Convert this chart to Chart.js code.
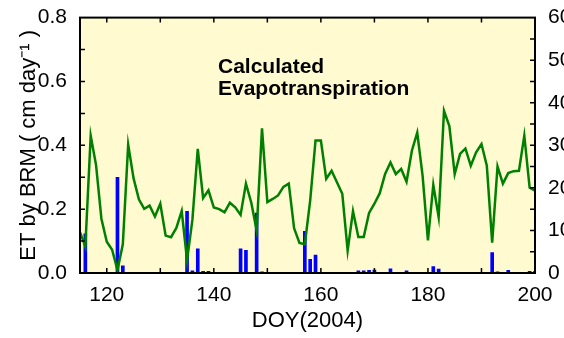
<!DOCTYPE html>
<html>
<head>
<meta charset="utf-8">
<script src="https://cdn.jsdelivr.net/npm/chart.js@4.4.1/dist/chart.umd.min.js"></script>
<style>
  html, body { margin: 0; padding: 0; background: #fff; overflow: hidden; }
</style>
</head>
<body>
<canvas id="graficaET" width="564" height="338"></canvas>
<script>
// Dias del año (DOY 2004) para la ET calculada
const diasET = [
  115, 116, 117, 118, 119, 120, 121, 122, 123, 124, 125, 126, 127, 128, 129,
  130, 131, 132, 133, 134, 135, 136, 137, 138, 139, 140, 141, 142, 143, 144,
  145, 146, 147, 148, 149, 150, 151, 152, 153, 154, 155, 156, 157, 158, 159,
  160, 161, 162, 163, 164, 165, 166, 167, 168, 169, 170, 171, 172, 173, 174,
  175, 176, 177, 178, 179, 180, 181, 182, 183, 184, 185, 186, 187, 188, 189,
  190, 191, 192, 193, 194, 195, 196, 197, 198, 199, 200
];

// ET por BRM (cm/dia)
const valoresET = [
  0.128, 0.083, 0.430, 0.338, 0.170, 0.098, 0.073, 0.009, 0.090, 0.402, 0.297, 0.231, 0.201, 0.211, 0.177,
  0.217, 0.117, 0.112, 0.141, 0.194, 0.040, 0.167, 0.389, 0.235, 0.259, 0.205, 0.200, 0.190, 0.220, 0.206,
  0.182, 0.280, 0.220, 0.133, 0.453, 0.222, 0.232, 0.243, 0.270, 0.280, 0.140, 0.094, 0.090, 0.227, 0.415,
  0.415, 0.295, 0.320, 0.284, 0.248, 0.070, 0.194, 0.113, 0.113, 0.188, 0.217, 0.250, 0.310, 0.346, 0.310,
  0.326, 0.286, 0.383, 0.440, 0.305, 0.102, 0.276, 0.175, 0.508, 0.460, 0.310, 0.373, 0.390, 0.336, 0.378,
  0.404, 0.336, 0.095, 0.334, 0.280, 0.313, 0.319, 0.320, 0.430, 0.267, 0.258
];

// Precipitación (eje derecho)
const diasLluvia = [116, 122, 123, 135, 136, 137, 138, 139, 145, 146, 148, 149, 157, 158, 159,
  167, 168, 169, 170, 173, 176, 181, 182, 192, 193, 195, 199, 200];
const valoresLluvia = [9.2, 22.5, 1.7, 14.5, 0.5, 5.7, 0.4, 0.4, 5.7, 5.3, 14.1, 0.3, 9.8, 3.2, 4.2,
  0.5, 0.5, 0.6, 0.7, 1.0, 0.5, 1.5, 0.9, 4.8, 0.3, 0.6, 0.4, 0.4];

// Etiquetas y marcas de los ejes
const etiquetasX = [120, 140, 160, 180, 200];
const marcasX = [120, 130, 140, 150, 160, 170, 180, 190];
const etiquetasET = [0, 0.2, 0.4, 0.6, 0.8];
const marcasET = [0.1, 0.2, 0.3, 0.4, 0.5, 0.6, 0.7];
const etiquetasLluvia = [0, 10, 20, 30, 40, 50, 60];
const marcasLluvia = [5, 10, 15, 20, 25, 30, 35, 40, 45, 50, 55];

const fuente = '"Liberation Sans", Arial, sans-serif';

// Fondo amarillo, marco y marcas hacia adentro
const marcoInterior = {
  id: 'marcoInterior',
  beforeDatasetsDraw(chart) {
    const { ctx, chartArea: a } = chart;
    ctx.save();
    ctx.fillStyle = 'rgb(255,250,208)';
    ctx.fillRect(a.left, a.top, a.right - a.left, a.bottom - a.top);
    ctx.restore();
  },
  afterDatasetsDraw(chart) {
    const { ctx, chartArea: a, scales } = chart;
    ctx.save();
    ctx.strokeStyle = '#000';
    ctx.lineWidth = 1.5;
    ctx.beginPath();
    marcasX.forEach(v => {
      const px = scales.x.getPixelForValue(v);
      ctx.moveTo(px, a.bottom); ctx.lineTo(px, a.bottom - 5);
      ctx.moveTo(px, a.top); ctx.lineTo(px, a.top + 5);
    });
    marcasET.forEach(v => {
      const py = scales.y.getPixelForValue(v);
      ctx.moveTo(a.left, py); ctx.lineTo(a.left + 5, py);
    });
    marcasLluvia.forEach(v => {
      const py = scales.y1.getPixelForValue(v);
      ctx.moveTo(a.right, py); ctx.lineTo(a.right - 5, py);
    });
    ctx.stroke();
    ctx.lineWidth = 2;
    ctx.strokeRect(a.left, a.top, a.right - a.left, a.bottom - a.top);

    ctx.fillStyle = '#000';
    ctx.font = 'bold 21px ' + fuente;
    ctx.textBaseline = 'alphabetic';
    ctx.fillText('Calculated', 218, 73);
    ctx.fillText('Evapotranspiration', 218, 95);
    ctx.restore();
  }
};

const ctx = document.getElementById('graficaET').getContext('2d');

new Chart(ctx, {
  type: 'line',
  data: {
    datasets: [
      {
        type: 'line',
        label: 'ET',
        data: diasET.map((d, i) => ({ x: d, y: valoresET[i] })),
        yAxisID: 'y',
        borderColor: '#008000',
        borderWidth: 2.5,
        pointRadius: 0,
        tension: 0,
        order: 1
      },
      {
        type: 'bar',
        label: 'Lluvia',
        data: diasLluvia.map((d, i) => ({ x: d, y: valoresLluvia[i] })),
        yAxisID: 'y1',
        backgroundColor: '#0000ff',
        barThickness: 3,
        grouped: false,
        order: 2
      }
    ]
  },
  options: {
    responsive: false,
    animation: false,
    devicePixelRatio: 1,
    layout: { padding: { top: 17, left: 0, right: 0, bottom: 0 } },
    plugins: {
      legend: { display: false },
      tooltip: { enabled: false }
    },
    scales: {
      x: {
        type: 'linear',
        min: 115,
        max: 200,
        offset: false,
        grid: { display: false },
        border: { display: false },
        afterBuildTicks: s => { s.ticks = etiquetasX.map(v => ({ value: v })); },
        afterFit: s => { s.height = 65; },
        ticks: {
          color: '#000',
          font: { family: fuente, size: 21 },
          padding: 2,
          maxRotation: 0,
          autoSkip: false
        },
        title: {
          display: true,
          text: 'DOY(2004)',
          color: '#000',
          font: { family: fuente, size: 22 },
          padding: { top: 0, bottom: 4 }
        }
      },
      y: {
        position: 'left',
        min: 0,
        max: 0.8,
        grid: { display: false },
        border: { display: false },
        afterBuildTicks: s => { s.ticks = etiquetasET.map(v => ({ value: v })); },
        afterFit: s => { s.width = 80; },
        ticks: {
          color: '#000',
          font: { family: fuente, size: 21 },
          padding: 5,
          callback: v => v.toFixed(1)
        },
        title: {
          display: true,
          text: 'ET by BRM ( cm day⁻¹ )',
          color: '#000',
          font: { family: fuente, size: 22 },
          padding: { top: 16, bottom: 0 }
        }
      },
      y1: {
        position: 'right',
        min: 0,
        max: 60,
        grid: { display: false },
        border: { display: false },
        afterBuildTicks: s => { s.ticks = etiquetasLluvia.map(v => ({ value: v })); },
        afterFit: s => { s.width = 29; },
        ticks: {
          color: '#000',
          font: { family: fuente, size: 21 },
          padding: 5
        }
      }
    }
  },
  plugins: [marcoInterior]
});
</script>
</body>
</html>
